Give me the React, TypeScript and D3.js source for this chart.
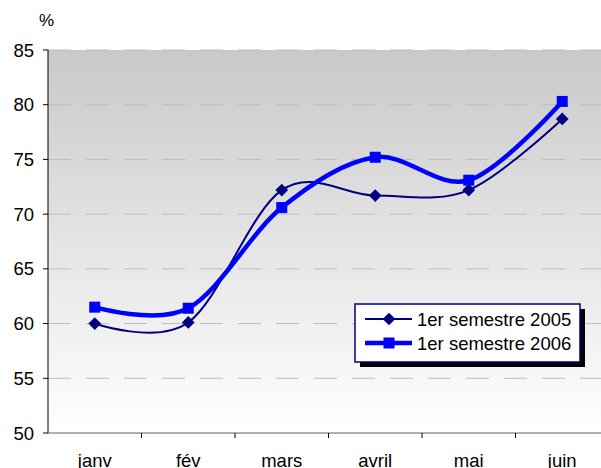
import * as d3 from 'd3';

const months = ['janv', 'fév', 'mars', 'avril', 'mai', 'juin'];
const s2005 = [60.0, 60.1, 72.2, 71.7, 72.2, 78.7];
const s2006 = [61.5, 61.4, 70.6, 75.2, 73.1, 80.3];
const yTicks = [50, 55, 60, 65, 70, 75, 80, 85];

const font = 'Liberation Sans, Arial, sans-serif';

export default function App() {
  const W = 601;
  const H = 468;
  const left = 48;
  const right = 609;
  const top = 50;
  const bottom = 433;

  const x = d3.scaleBand().domain(months).range([left, right]);
  const y = d3.scaleLinear().domain([50, 85]).range([bottom, top]);
  const cx = (m: string) => x(m)! + x.bandwidth() / 2;

  const line = d3
    .line<number>()
    .x((_, i) => cx(months[i]))
    .y((d) => y(d))
    .curve(d3.curveCardinal.tension(0));

  const lx = 355;
  const ly = 304;

  return (
    <svg width={W} height={H} style={{ position: 'absolute', left: 0, top: 0 }}>
      <defs>
        <linearGradient id="bg" x1="0" y1="0" x2="0" y2="1">
          <stop offset="0" stopColor="#c9c9c9" />
          <stop offset="1" stopColor="#ffffff" />
        </linearGradient>
      </defs>
      <rect x={0} y={0} width={W} height={H} fill="#fff" />
      <rect x={left} y={top} width={right - left} height={bottom - top} fill="url(#bg)" />

      {/* grid */}
      {yTicks.slice(1).map((t) => (
        <line key={t} x1={left} x2={right} y1={y(t)} y2={y(t)} stroke="#bdbdbd" strokeDasharray="23,15" />
      ))}

      {/* y axis */}
      <line x1={left} x2={left} y1={top} y2={bottom} stroke="#000" />
      {yTicks.map((t) => (
        <g key={t}>
          <line x1={left - 5} x2={left} y1={y(t)} y2={y(t)} stroke="#000" />
          <text x={34} y={y(t) + 6.5} textAnchor="end" fontSize={18.5} fontFamily={font} fill="#000">
            {t}
          </text>
        </g>
      ))}
      <text x={39} y={26} fontSize={17} fontFamily={font} fill="#000">%</text>

      {/* x axis */}
      <line x1={left} x2={right} y1={bottom} y2={bottom} stroke="#606060" />
      {months.map((m, i) => (
        <g key={m}>
          {i > 0 && <line x1={x(m)!} x2={x(m)!} y1={bottom} y2={bottom + 5} stroke="#000" />}
          <text x={cx(m)} y={467} textAnchor="middle" fontSize={18.5} fontFamily={font} fill="#000">
            {m}
          </text>
        </g>
      ))}

      {/* series */}
      <path d={line(s2005)!} fill="none" stroke="#000080" strokeWidth={2} />
      <path d={line(s2006)!} fill="none" stroke="#0000ff" strokeWidth={4.5} />
      {s2005.map((v, i) => (
        <rect key={i} x={-4.5} y={-4.5} width={9} height={9} fill="#000080"
          transform={`translate(${cx(months[i])},${y(v)}) rotate(45)`} />
      ))}
      {s2006.map((v, i) => (
        <rect key={i} x={cx(months[i]) - 5.5} y={y(v) - 5.5} width={11} height={11} fill="#0000ff" />
      ))}

      {/* legend */}
      <rect x={lx + 5} y={ly + 5} width={225} height={58} fill="#000" />
      <rect x={lx} y={ly} width={225} height={58} fill="#fff" stroke="#000080" strokeWidth={1.5} />
      <line x1={lx + 10} x2={lx + 57} y1={ly + 15} y2={ly + 15} stroke="#000080" strokeWidth={2} />
      <rect x={-4.5} y={-4.5} width={9} height={9} fill="#000080"
        transform={`translate(${lx + 34},${ly + 15}) rotate(45)`} />
      <text x={lx + 62} y={ly + 22} fontSize={18.5} fontFamily={font} fill="#000">1er semestre 2005</text>
      <line x1={lx + 10} x2={lx + 57} y1={ly + 39} y2={ly + 39} stroke="#0000ff" strokeWidth={4.5} />
      <rect x={lx + 34 - 5.5} y={ly + 39 - 5.5} width={11} height={11} fill="#0000ff" />
      <text x={lx + 62} y={ly + 46} fontSize={18.5} fontFamily={font} fill="#000">1er semestre 2006</text>
    </svg>
  );
}
